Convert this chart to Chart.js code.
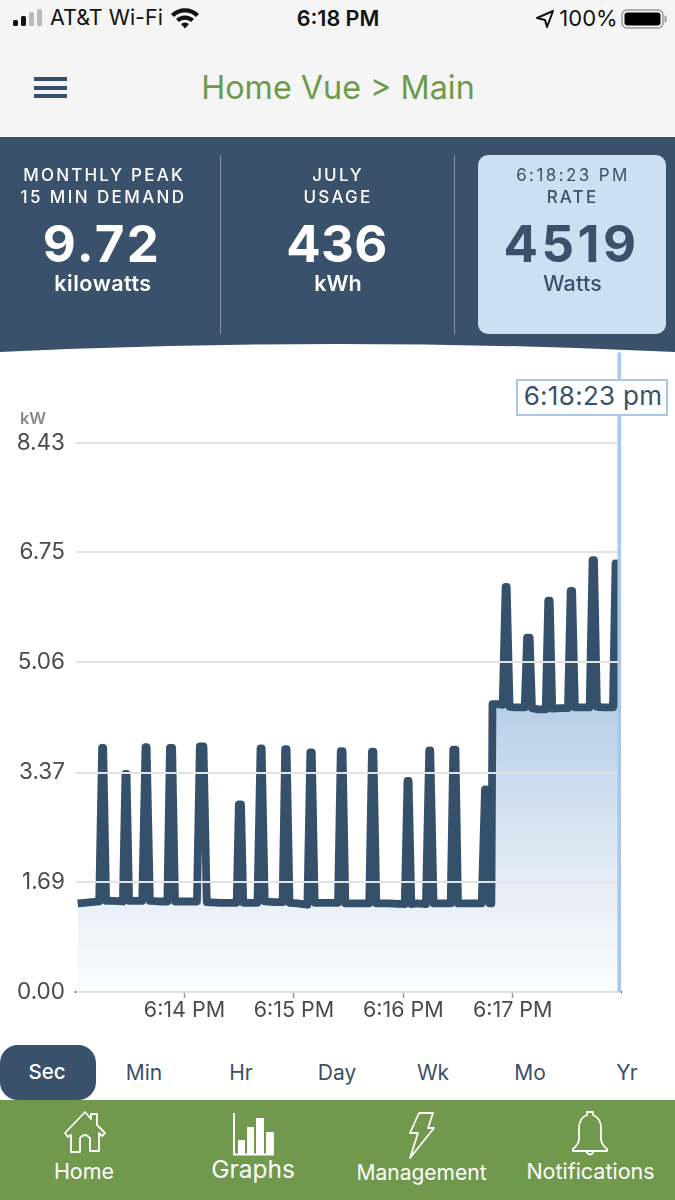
<!DOCTYPE html>
<html><head><meta charset="utf-8">
<script src="https://cdn.jsdelivr.net/npm/chart.js@4"></script>
<style>
html,body{margin:0;padding:0;background:#fff;}
body{width:675px;height:1200px;position:relative;overflow:hidden;font-family:Inter,"Noto Sans",sans-serif;}
.t{position:absolute;white-space:nowrap;line-height:1;transform:translate(-50%,-50%);}
.b{position:absolute;}
canvas{position:absolute;left:0;top:328px;}
.lab{font-size:17px;font-weight:500;}
</style></head><body>
<canvas id="c" width="675" height="715"></canvas>
<div class="b" style="left:0;top:0;width:675px;height:137px;background:#f5f5f5"></div>
<svg class="b" style="left:0;top:0" width="675" height="40">
<rect x="13" y="20" width="5" height="6" rx="1.5" fill="#111"/><rect x="21" y="16" width="5" height="10" rx="1.5" fill="#111"/><rect x="29" y="12" width="5" height="14" rx="1.5" fill="#bbb"/><rect x="37" y="9" width="5" height="17" rx="1.5" fill="#bbb"/>
<path d="M171 14a20 20 0 0 1 28 0l-3 3a16 16 0 0 0-22 0zM176 19a13 13 0 0 1 18 0l-3 3a9 9 0 0 0-12 0zM181 24a6 6 0 0 1 8 0l-4 4.500z" fill="#111"/>
<path d="M537 18l16-7-6 16-2-7z" fill="none" stroke="#111" stroke-width="2" stroke-linejoin="round"/>
<rect x="622" y="10" width="41" height="18" rx="5" fill="none" stroke="#999" stroke-width="1.500"/><rect x="624.500" y="12.500" width="36" height="13" rx="3" fill="#000"/><rect x="664.500" y="15.500" width="2" height="7" rx="1" fill="#999"/>
</svg>
<div class="t" style="left:50px;top:18px;transform:translate(0,-50%);font-size:21.500px;color:#111">AT&amp;T Wi-Fi</div>
<div class="t" style="left:338px;top:19px;font-size:21.500px;font-weight:600;color:#111">6:18 PM</div>
<div class="t" style="left:588.500px;top:18px;font-size:22px;color:#111">100%</div>
<div class="t" style="left:338px;top:88px;font-size:32.300px;color:#6d9a4b">Home Vue &gt; Main</div>
<div class="b" style="left:34px;top:77px;width:33px;height:3.500px;background:#35506b"></div>
<div class="b" style="left:34px;top:86px;width:33px;height:3.500px;background:#35506b"></div>
<div class="b" style="left:34px;top:94px;width:33px;height:3.500px;background:#35506b"></div>

<svg class="b" style="left:0;top:137px" width="675" height="216">
<path d="M0 0H675V215Q338 199 0 215Z" fill="#39516a"/>
<rect x="220" y="18" width="1" height="179" fill="#8397aa"/><rect x="454" y="18" width="1" height="179" fill="#8397aa"/>
<rect x="478" y="18" width="188" height="179" rx="10" fill="#cce0f4"/>
</svg>
<div class="t lab" style="left:104px;top:175px;letter-spacing:2.200px;color:#fff">MONTHLY PEAK</div>
<div class="t lab" style="left:103.500px;top:197px;letter-spacing:2.400px;color:#fff">15 MIN DEMAND</div>
<div class="t" style="left:102px;top:243px;font-size:51px;font-weight:700;letter-spacing:2.300px;color:#fff">9.72</div>
<div class="t" style="left:103px;top:284px;font-size:21.500px;font-weight:600;letter-spacing:.5px;color:#fff">kilowatts</div>
<div class="t lab" style="left:338px;top:175px;letter-spacing:2.200px;color:#fff">JULY</div>
<div class="t lab" style="left:338px;top:197px;letter-spacing:2.200px;color:#fff">USAGE</div>
<div class="t" style="left:337px;top:243px;font-size:51px;font-weight:700;letter-spacing:.3px;color:#fff">436</div>
<div class="t" style="left:338px;top:284px;font-size:21.500px;font-weight:600;color:#fff">kWh</div>
<div class="t" style="left:573px;top:175px;font-size:17px;font-weight:400;letter-spacing:2.400px;color:#39516a">6:18:23 PM</div>
<div class="t lab" style="left:572.500px;top:197px;letter-spacing:2.200px;color:#39516a">RATE</div>
<div class="t" style="left:571.500px;top:243px;font-size:51px;font-weight:700;letter-spacing:3.500px;color:#39516a">4519</div>
<div class="t" style="left:572.500px;top:284px;font-size:21.500px;font-weight:500;letter-spacing:.2px;color:#39516a">Watts</div>

<div class="b" style="left:516px;top:379px;width:148px;height:33px;background:#fff;border:2px solid #a9c7e8"></div>
<div class="t" style="left:593px;top:396px;font-size:26px;color:#39516a;letter-spacing:.3px">6:18:23 pm</div>
<div class="t" style="left:33px;top:418px;font-size:16.500px;font-weight:600;color:#888">kW</div>

<div class="b" style="left:0;top:1045px;width:96px;height:55px;border-radius:18px;background:#39516a"></div>
<div class="t" style="left:47px;top:1072px;font-size:20.500px;font-weight:500;color:#fff">Sec</div>
<div class="t" style="left:144px;top:1072px;font-size:21px;color:#39516a">Min</div>
<div class="t" style="left:241px;top:1072px;font-size:21px;color:#39516a">Hr</div>
<div class="t" style="left:337px;top:1072px;font-size:21px;color:#39516a">Day</div>
<div class="t" style="left:433px;top:1072px;font-size:21px;color:#39516a">Wk</div>
<div class="t" style="left:530px;top:1072px;font-size:21px;color:#39516a">Mo</div>
<div class="t" style="left:627px;top:1072px;font-size:21px;color:#39516a">Yr</div>

<div class="b" style="left:0;top:1100px;width:675px;height:100px;background:#71994d"></div>
<svg class="b" style="left:0;top:1100px" width="675" height="60" fill="none" stroke="#fff" stroke-width="1.800" stroke-linejoin="round" stroke-linecap="round">
<path d="M65 33L85 12l6 7v-5h6v11l8 8-3 3-3-3v18H90V38q-5-6-10 0v14H71V35l-3 2z"/>
<g fill="#fff" stroke="none"><rect x="233" y="13" width="2" height="42"/><rect x="238" y="40" width="7" height="15"/><rect x="247" y="27" width="7" height="28"/><rect x="256" y="18" width="8" height="37"/><rect x="266" y="32" width="8" height="23"/><rect x="233" y="53.500" width="41" height="2"/></g>
<path d="M419 13h14l-5 15h6l-24 30 8-25h-8z"/>
<path d="M587 15v-3h6v3q8 3 8 13v11q0 5 6 10v2h-34v-2q6-5 6-10V28q0-10 8-13zM586 51q4 7 8 0"/>
</svg>
<div class="t" style="left:84px;top:1172px;font-size:21.500px;color:#fff">Home</div>
<div class="t" style="left:253px;top:1169px;font-size:24.500px;color:#fff">Graphs</div>
<div class="t" style="left:421.500px;top:1172px;font-size:21px;color:#fff">Management</div>
<div class="t" style="left:590.500px;top:1172px;font-size:21.500px;color:#fff">Notifications</div>

<script>
// seconds after 6:13:00 PM
const seconds = [
1.4,5,9,13.2,14.8,15.4,17.0,21,26.2,27.6,28.2,29.6,33,36.8,38.6,39.2,41.0,46,50.6,52.0,53.2,54.8,60,66.8,68.4,70.4,72.2,80,88.6,89.8,91.0,92.2,96,100.0,101.7,102.3,104.0,109,113.8,115.2,116.0,117.6,122,125,127.4,129.0,129.8,131.4,138,144.2,145.7,146.7,148.2,155,161.3,162.8,163.6,165.2,172,180.8,182.3,182.9,184.4,188,192.4,194.2,194.8,196.6,201,206.0,207.4,208.6,210.0,216,223.0,224.8,225.3,227.3,228.3,228.9,232,234.5,236.1,236.7,238.3,242,246.6,247.9,249.3,250.6,254,258.1,259.5,260.3,261.7,266,270.3,271.8,272.6,274.1,278,282.2,283.8,284.6,286.2,290,295.0,296.4,297.0,297.9,298.1];
const kilowatts = [
1.36,1.37,1.38,1.39,3.75,3.75,1.40,1.40,1.39,3.35,3.35,1.40,1.40,1.40,3.76,3.76,1.40,1.39,1.39,3.75,3.75,1.39,1.39,1.39,3.77,3.77,1.38,1.37,1.37,2.88,2.88,1.37,1.37,1.37,3.74,3.74,1.39,1.38,1.38,3.73,3.73,1.37,1.36,1.35,1.34,3.68,3.68,1.37,1.37,1.37,3.70,3.70,1.36,1.36,1.36,3.69,3.69,1.36,1.36,1.35,3.24,3.24,1.35,1.36,1.35,3.71,3.71,1.36,1.36,1.36,3.72,3.72,1.36,1.36,1.36,3.11,3.11,1.36,1.36,4.42,4.42,4.41,6.22,6.22,4.38,4.37,4.37,5.44,5.44,4.36,4.34,4.34,6.01,6.01,4.35,4.36,4.36,6.16,6.16,4.37,4.37,4.37,6.63,6.63,4.38,4.37,4.37,6.58,6.58,4.37,4.37];
const yTicks = [0,1.69,3.37,5.06,6.75,8.43];
const xTicks = [60,120,180,240];
const xTickLabels = ["6:14 PM","6:15 PM","6:16 PM","6:17 PM"];
const cursorSeconds = [298.5,298.5];
const cursorValues = [0,9.82];

const points = seconds.map((s,i)=>({x:s,y:kilowatts[i]}));
const cursor = cursorSeconds.map((s,i)=>({x:s,y:cursorValues[i]}));

const fill = (ctx)=>{
  const {chart}=ctx;
  if(!chart.chartArea) return 'rgba(0,0,0,0)';
  const y=chart.scales.y;
  const g=chart.ctx.createLinearGradient(0,y.getPixelForValue(4.4),0,y.getPixelForValue(0));
  g.addColorStop(0,'#b9cfe8');
  g.addColorStop(0.67,'#e8eff8');
  g.addColorStop(1,'#fcfdfe');
  return g;
};

new Chart(document.getElementById('c'),{
  type:'line',
  data:{datasets:[
    {label:'Cursor',data:cursor,borderColor:'#a9c7e8',borderWidth:3.4,pointRadius:0,fill:false,tension:0},
    {label:'kW',data:points,borderColor:'#35506b',borderWidth:7.8,pointRadius:0,tension:0,
     borderJoinStyle:'round',borderCapStyle:'butt',backgroundColor:fill,fill:'origin'}
  ]},
  options:{
    responsive:false,animation:false,events:[],
    layout:{autoPadding:false,padding:{left:0,right:54,top:0,bottom:0}},
    plugins:{legend:{display:false},tooltip:{enabled:false}},
    scales:{
      x:{type:'linear',min:0.48,max:299.4,
        afterBuildTicks:a=>{a.ticks=xTicks.map(v=>({value:v}));},
        afterFit:a=>{a.height=51;},
        border:{display:true,color:'#555',width:2},
        grid:{drawOnChartArea:false,drawTicks:true,tickLength:6,color:'#999',tickWidth:1.5},
        ticks:{autoSkip:false,maxRotation:0,padding:0,color:'#4a4a4a',font:{family:'Inter',size:21.5},
          callback:v=>xTickLabels[xTicks.indexOf(v)]}
      },
      y:{type:'linear',min:0,max:9.82,
        afterBuildTicks:a=>{a.ticks=yTicks.map(v=>({value:v}));},
        afterFit:a=>{a.width=76;},
        border:{display:false},
        grid:{z:1,color:'#e2e2e2',lineWidth:2,drawTicks:false},
        ticks:{padding:11,color:'#4a4a4a',font:{family:'Inter',size:22.5},
          callback:v=>v.toFixed(2)}
      }
    }
  },
  plugins:[{id:'cursorOnTop',afterDraw(chart){chart.getDatasetMeta(0).dataset.draw(chart.ctx);}}]
});
</script>
</body></html>
